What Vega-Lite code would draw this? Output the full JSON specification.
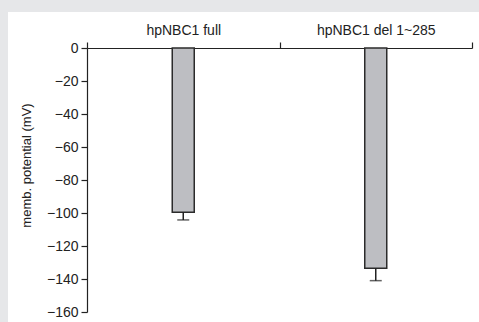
{
  "$schema": "https://vega.github.io/schema/vega-lite/v6.json",
  "width": 471,
  "height": 310,
  "autosize": {"type": "none"},
  "padding": {"left": 8, "top": 12, "right": 0, "bottom": 0},
  "background": "#e6e7e9",
  "config": {
    "view": {"fill": "#ffffff", "stroke": null},
    "font": "Liberation Sans",
    "axis": {
      "domainColor": "#222222",
      "domainWidth": 1.2,
      "tickColor": "#222222",
      "tickWidth": 1.2,
      "labelColor": "#222222",
      "titleColor": "#222222",
      "labelFont": "Liberation Sans",
      "titleFont": "Liberation Sans",
      "grid": false
    }
  },
  "data": {
    "values": [
      {"group": "hpNBC1 full", "mean": -99.5, "lower": -104.2},
      {"group": "hpNBC1 del 1~285", "mean": -133.5, "lower": -141.0}
    ]
  },
  "encoding": {
    "x": {
      "field": "group",
      "type": "nominal",
      "sort": null,
      "scale": {"range": [79, 464], "paddingInner": 0, "paddingOuter": 0},
      "axis": {
        "orient": "top",
        "offset": -36,
        "title": null,
        "labelAngle": 0,
        "labelFontSize": 14,
        "labelPadding": 5,
        "tickSize": 6,
        "tickBand": "extent"
      }
    },
    "y": {
      "field": "mean",
      "type": "quantitative",
      "scale": {"domain": [-160, 0], "range": [300, 36], "nice": false},
      "axis": {
        "orient": "left",
        "offset": -79,
        "values": [0, -20, -40, -60, -80, -100, -120, -140, -160],
        "tickCount": 9,
        "labelOverlap": false,
        "labelFlush": false,
        "tickSize": 6,
        "labelPadding": 3,
        "labelFontSize": 14,
        "title": "memb. potential (mV)",
        "titleFontSize": 13,
        "titleFontWeight": "normal",
        "titleX": -54,
        "titleY": 153,
        "titleBaseline": "bottom"
      }
    }
  },
  "layer": [
    {
      "mark": {"type": "bar", "width": 22, "fill": "#bdbec2", "stroke": "#2b2b2b", "strokeWidth": 1.5}
    },
    {
      "mark": {"type": "rule", "stroke": "#222222", "strokeWidth": 1.5},
      "encoding": {
        "y2": {"field": "lower"}
      }
    },
    {
      "mark": {"type": "tick", "color": "#222222", "size": 12, "thickness": 1.5},
      "encoding": {
        "y": {
          "field": "lower",
          "type": "quantitative",
          "axis": {
            "orient": "left",
            "offset": -79,
            "values": [0, -20, -40, -60, -80, -100, -120, -140, -160],
            "tickCount": 9,
            "labelOverlap": false,
            "labelFlush": false,
            "tickSize": 6,
            "labelPadding": 3,
            "labelFontSize": 14,
            "title": "memb. potential (mV)",
            "titleFontSize": 13,
            "titleFontWeight": "normal",
            "titleX": -54,
            "titleY": 153,
            "titleBaseline": "bottom"
          }
        }
      }
    }
  ]
}
